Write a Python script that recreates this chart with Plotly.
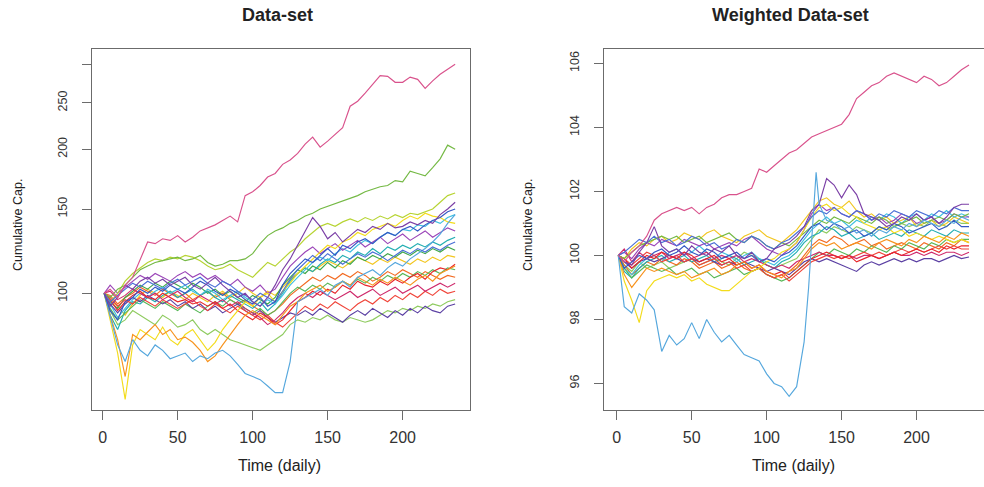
import math
import plotly.graph_objects as go

# ---------------- data ----------------
T = [1, 5, 10, 15, 20, 25, 30, 35, 40, 45, 50, 55, 60, 65, 70, 75, 80, 85, 90, 95,
     100, 105, 110, 115, 120, 125, 130, 135, 140, 145, 150, 155, 160, 165, 170, 175,
     180, 185, 190, 195, 200, 205, 210, 215, 220, 225, 230, 235]

T_R_SKY = [1, 5, 10, 15, 20, 25, 30, 35, 40, 45, 50, 55, 60, 65, 70, 75, 80, 85, 90, 95,
           100, 105, 110, 115, 120, 125, 128, 131, 133, 135, 140, 145, 150, 155, 160, 165,
           170, 175, 180, 185, 190, 195, 200, 205, 210, 215, 220, 225, 230, 235]

X_TICKS = [0, 50, 100, 150, 200]
L_TICKS = [100, 150, 200, 250, 300]
L_TICK_TEXT = ["100", "150", "200", "250", ""]
R_TICKS = [96, 98, 100, 102, 104, 106]

# Data-set (left panel)
L_PINK = [100,102,98,104,108,118,128,127,130,129,132,128,131,135,137,139,142,145,141,160,
          163,168,175,178,186,190,196,205,212,202,208,215,222,246,252,262,274,285,284,276,
          276,283,280,268,278,287,294,301]
L_SKY = [100,90,78,72,80,76,74,78,76,73,74,75,72,74,73,75,76,74,71,68,67,66,64,62,62,72,
         96,98,100,102,99,104,106,103,108,110,112,109,113,116,114,118,121,124,128,133,140,146]
L_YELLOW = [100,88,75,60,78,84,82,80,85,80,78,82,84,80,76,79,84,88,92,96,94,98,100,96,101,
            105,110,114,118,122,126,124,128,130,134,132,136,138,140,138,142,145,143,147,145,
            144,141,140]
L_ORANGE = [100,90,80,67,82,80,83,86,82,84,80,81,79,76,72,74,78,82,86,90,92,90,88,86,90,94,
            96,100,102,104,101,103,106,104,108,106,104,107,105,108,106,104,107,109,106,110,112,114]
L_LGREEN_LOW = [100,92,86,88,92,90,88,86,90,88,85,86,88,84,82,84,82,80,79,78,77,76,78,80,82,
                86,88,87,89,88,90,88,87,89,88,87,88,90,92,91,93,92,94,93,95,94,96,97]
L_GREEN_TOP = [100,98,102,104,108,112,114,116,117,118,119,117,118,120,116,114,115,117,117,118,
               121,127,132,135,137,140,142,145,147,150,152,154,156,158,160,163,165,167,168,172,
               171,180,178,176,183,191,204,200]
L_YGREEN = [100,96,100,106,110,113,116,118,117,119,118,120,119,117,114,112,113,115,112,110,108,
            112,116,114,118,122,125,130,134,138,140,138,141,143,141,144,142,145,143,146,144,147,
            146,148,150,155,160,162]
L_PURPLE = [100,94,98,104,102,106,108,105,107,104,106,108,104,102,105,108,104,101,98,100,96,94,
            98,104,112,118,126,134,144,138,130,134,128,132,136,134,138,136,140,137,138,141,139,
            142,140,146,150,155]
L_BLUE = [100,92,88,96,98,102,100,103,101,104,102,100,103,106,104,101,99,102,100,97,95,98,94,96,
          104,110,114,118,116,120,124,120,126,124,128,130,127,131,134,132,136,138,135,139,142,
          144,148,150]
L_RED = [100,97,92,96,99,101,98,97,100,98,96,97,95,96,94,96,93,95,92,90,88,91,89,86,88,92,96,98,
         101,99,102,100,104,102,106,104,103,106,104,107,105,108,110,107,111,113,112,115]
L_CRIMSON = [100,101,97,99,102,100,98,100,97,99,101,98,96,99,97,95,97,94,96,93,91,89,86,88,91,95,
             98,100,98,101,99,97,99,101,98,100,102,99,101,103,100,102,104,101,103,105,103,105]
L_DPURPLE = [100,95,91,95,98,96,99,97,95,97,94,96,93,95,92,94,91,93,95,92,90,92,89,87,89,91,90,
             92,90,93,91,89,87,90,92,90,93,91,89,92,90,93,91,94,92,91,94,95]
L_TEAL = [100,90,84,92,96,95,98,96,99,101,98,100,102,99,101,98,96,99,97,95,93,96,92,95,100,106,
          110,113,111,115,118,116,120,118,122,120,124,121,125,123,126,124,127,125,128,126,129,131]
L_GREEN_MID = [100,96,93,98,101,104,102,105,103,106,104,102,105,103,100,102,99,101,98,96,99,97,
               95,98,104,108,112,110,114,112,116,113,117,115,119,117,120,118,121,119,122,120,123,
               121,124,122,125,123]
L_ORANGE2 = [100,99,95,98,100,103,101,99,102,100,98,100,97,99,101,98,100,97,95,97,94,92,90,92,
             95,99,102,105,108,106,109,107,110,108,111,109,106,108,111,109,112,110,108,111,109,
             107,109,108]
L_VIOLET = [100,104,100,103,106,109,107,110,108,106,109,111,108,110,107,109,106,104,107,103,101,
            104,100,102,108,114,118,122,125,121,124,127,123,126,129,125,128,131,127,130,133,129,
            132,135,131,134,137,135]
L_YELLOW2 = [100,97,94,90,95,99,102,100,98,101,99,97,100,98,96,99,101,98,100,103,100,98,101,99,
             103,107,110,113,111,114,117,115,113,116,119,117,115,118,116,119,117,115,118,116,119,
             117,120,119]
L_CYAN = [100,95,89,93,97,100,98,101,103,100,102,104,101,99,102,100,97,99,101,98,96,94,97,95,99,
          104,108,112,116,119,117,121,124,122,126,129,127,131,134,132,136,135,139,138,142,140,
          144,146]
L_RED2 = [100,98,94,97,95,98,96,94,97,95,93,95,97,94,92,95,93,91,94,92,90,88,90,87,85,88,91,94,
          92,95,93,96,94,92,95,97,95,98,96,99,97,100,98,101,99,102,100,101]
L_GREEN2 = [100,93,88,91,94,97,95,93,96,94,92,95,93,91,94,96,94,97,95,93,91,93,90,92,96,100,103,
            101,104,102,105,103,106,104,107,105,108,106,109,107,110,108,111,109,112,110,113,112]
L_BLUE2 = [100,96,99,102,105,103,106,104,102,105,107,104,106,108,105,103,106,104,101,99,97,100,
           98,96,101,107,112,116,120,117,121,118,115,118,121,119,122,120,117,120,123,121,124,122,
           125,123,126,128]

# Weighted Data-set (right panel)
R_PINK = [100,99.8,100.1,100.3,100.6,101.1,101.3,101.4,101.5,101.4,101.5,101.3,101.5,101.6,101.8,
          101.9,101.9,102.0,102.1,102.7,102.6,102.8,103.0,103.2,103.3,103.5,103.7,103.8,103.9,
          104.0,104.1,104.4,104.9,105.1,105.3,105.4,105.6,105.7,105.6,105.5,105.4,105.6,105.5,
          105.3,105.4,105.6,105.8,105.95]
R_SKY = [100,98.4,98.2,98.8,98.6,98.3,97.0,97.5,97.2,97.4,97.9,97.4,98.0,97.6,97.3,97.5,97.2,
         96.9,96.8,96.7,96.3,96.0,95.9,95.6,95.9,97.3,99.0,101.2,102.6,101.6,101.1,101.0,100.8,
         100.9,100.7,100.8,100.6,100.8,100.7,100.9,100.8,101.0,100.9,101.1,101.0,100.9,101.1,
         101.0,101.2,101.1]
R_PURPLE = [100,99.8,99.7,100.1,100.4,100.9,100.3,100.1,100.2,100.0,100.3,100.1,100.0,100.2,100.1,
            100.3,100.0,99.9,100.1,99.8,99.9,100.2,100.3,100.4,100.6,100.9,101.4,101.6,102.4,
            102.2,101.8,102.2,101.9,101.3,101.2,101.1,100.9,101.0,101.2,101.1,101.3,101.1,101.2,
            101.0,101.2,101.5,101.6,101.6]
R_YELLOW = [100,99.2,98.6,97.9,98.9,99.2,99.3,99.4,99.3,99.4,99.2,99.3,99.1,99.0,98.9,98.9,99.1,
            99.3,99.5,99.6,99.8,99.9,100.1,100.2,100.4,100.8,101.2,101.5,101.6,101.4,101.5,101.3,
            101.2,101.0,100.9,100.8,100.9,100.7,100.8,100.6,100.7,100.6,100.5,100.6,100.5,100.4,
            100.5,100.4]
R_ORANGE = [100,99.4,99.0,99.3,99.6,99.5,99.6,99.5,99.4,99.5,99.3,99.4,99.5,99.6,99.4,99.5,99.7,
            99.8,99.6,99.7,99.5,99.4,99.3,99.5,99.6,99.9,100.2,100.4,100.3,100.4,100.2,100.3,
            100.4,100.3,100.2,100.4,100.5,100.4,100.3,100.5,100.4,100.6,100.5,100.4,100.6,100.5,
            100.7,100.6]
R_RED = [100,99.9,99.6,99.8,100.0,99.9,100.1,100.0,99.9,100.1,100.0,99.8,99.9,100.0,99.8,99.9,
         99.7,99.8,99.6,99.7,99.5,99.4,99.5,99.3,99.5,99.7,99.9,100.0,100.1,100.0,99.9,100.0,
         99.8,99.9,100.0,99.9,100.0,100.1,100.0,100.1,100.2,100.1,100.2,100.1,100.3,100.2,
         100.3,100.3]
R_CRIMSON = [100,100.2,99.8,100.1,99.9,100.0,100.1,99.9,100.0,100.1,99.9,100.0,100.1,99.9,100.0,
             99.9,100.0,99.8,99.9,99.8,99.7,99.6,99.7,99.6,99.8,99.9,100.0,100.1,100.0,100.0,
             99.9,100.0,99.9,100.0,100.0,99.9,100.0,100.1,100.0,100.0,100.1,100.0,100.1,100.0,
             100.1,100.1,100.0,100.1]
R_GREEN_TOP = [100,99.9,100.1,100.3,100.4,100.5,100.6,100.5,100.6,100.4,100.5,100.6,100.4,100.5,
               100.6,100.7,100.5,100.4,100.6,100.5,100.3,100.2,100.4,100.3,100.5,100.7,100.9,
               101.1,101.0,101.2,101.1,101.0,101.2,101.1,101.0,101.2,101.1,100.9,101.0,101.1,
               101.2,101.0,101.1,101.2,101.1,101.3,101.2,101.3]
R_LGREEN = [100,99.7,99.5,99.8,99.6,99.7,99.8,99.6,99.7,99.8,99.9,99.7,99.8,99.9,99.8,99.7,99.9,
            100.1,100.0,99.9,99.7,99.6,99.7,99.8,99.9,100.2,100.5,100.8,100.7,100.9,100.8,100.7,
            100.9,100.8,100.7,100.9,100.8,100.9,101.0,100.9,101.0,100.9,101.1,101.0,100.9,101.1,
            101.0,101.0]
R_BLUE = [100,99.6,99.8,100.0,99.9,100.1,100.2,100.0,100.1,100.3,100.1,100.0,100.2,100.1,99.9,
          100.0,100.1,99.9,100.0,99.8,99.9,99.8,100.0,100.1,100.3,100.6,100.9,101.0,100.8,101.0,
          100.9,100.7,100.8,100.6,100.7,100.9,100.8,101.0,100.9,100.7,100.8,100.9,101.0,100.8,
          100.9,101.1,100.9,100.9]
R_TEAL = [100,99.5,99.3,99.6,99.8,99.9,100.0,99.8,99.9,100.0,99.8,99.9,100.0,99.8,99.9,100.0,
          99.9,99.7,99.8,99.9,99.7,99.6,99.8,99.9,100.1,100.4,100.6,100.7,100.9,100.8,100.6,
          100.7,100.5,100.6,100.7,100.5,100.6,100.7,100.6,100.8,100.7,100.6,100.8,100.7,100.6,
          100.8,100.7,100.7]
R_VIOLET = [100,100.1,99.9,100.2,100.4,100.3,100.5,100.4,100.3,100.5,100.4,100.3,100.4,100.2,
            100.3,100.4,100.3,100.5,100.6,100.4,100.2,100.1,100.0,100.2,100.4,100.8,101.3,101.6,
            101.4,101.5,101.3,101.2,101.4,101.3,101.1,101.2,101.0,101.1,101.3,101.2,101.0,101.1,
            101.2,101.0,101.1,101.3,101.2,101.2]
R_DPURPLE = [100,99.8,99.6,99.8,99.9,99.8,99.9,100.0,99.9,99.8,99.9,99.8,99.9,99.8,99.7,99.8,
             99.7,99.8,99.7,99.6,99.5,99.6,99.5,99.4,99.6,99.8,99.9,99.8,99.9,99.8,99.7,99.6,
             99.5,99.7,99.8,99.7,99.8,99.9,99.8,99.9,99.8,99.9,99.9,99.8,99.9,100.0,99.9,99.95]
R_ORANGE2 = [100,99.7,99.4,99.6,99.8,99.7,99.9,99.8,99.7,99.9,99.8,99.6,99.7,99.8,99.6,99.7,
             99.8,99.6,99.5,99.6,99.4,99.3,99.4,99.5,99.7,100.0,100.3,100.5,100.4,100.6,100.5,
             100.3,100.4,100.5,100.3,100.4,100.2,100.3,100.4,100.3,100.2,100.4,100.3,100.2,100.4,
             100.3,100.5,100.4]
R_YELLOW2 = [100,99.9,100.2,100.4,100.3,100.5,100.6,100.4,100.5,100.7,100.6,100.5,100.7,100.8,
             100.6,100.5,100.4,100.6,100.7,100.8,100.6,100.5,100.4,100.6,100.8,101.1,101.4,101.7,
             101.8,101.6,101.5,101.7,101.4,101.2,101.3,101.1,101.2,101.0,101.1,101.2,100.9,101.0,
             101.1,100.9,101.0,101.2,101.1,101.0]
R_CYAN = [100,99.6,99.4,99.7,99.9,100.0,99.8,100.1,100.2,100.0,100.1,100.3,100.1,99.9,100.1,
          100.0,99.8,100.0,100.1,99.9,99.8,99.7,99.9,100.0,100.2,100.5,100.8,101.0,101.2,101.0,
          101.1,100.9,101.1,101.0,101.2,101.1,101.3,101.2,101.0,101.2,101.3,101.1,101.3,101.2,
          101.4,101.2,101.3,101.2]
R_RED2 = [100,99.9,99.7,99.9,100.1,100.0,99.8,99.9,100.0,99.8,99.9,99.7,99.8,99.9,99.7,99.8,
          99.6,99.7,99.5,99.6,99.4,99.3,99.4,99.2,99.4,99.6,99.8,99.9,100.0,99.9,100.0,99.9,
          100.0,100.1,100.0,100.1,100.0,100.1,100.2,100.1,100.2,100.1,100.2,100.3,100.2,100.3,
          100.2,100.2]
R_GREEN2 = [100,99.6,99.3,99.5,99.7,99.6,99.5,99.6,99.4,99.5,99.6,99.4,99.5,99.3,99.4,99.5,99.6,
            99.4,99.5,99.6,99.4,99.3,99.2,99.3,99.5,99.7,99.9,100.1,100.0,100.2,100.1,100.0,
            100.2,100.1,100.3,100.2,100.1,100.3,100.2,100.4,100.3,100.2,100.4,100.3,100.5,100.4,
            100.5,100.5]
R_BLUE2 = [100,100.1,100.3,100.5,100.4,100.6,100.4,100.5,100.3,100.4,100.6,100.5,100.3,100.4,
           100.2,100.3,100.5,100.4,100.6,100.5,100.3,100.2,100.4,100.5,100.7,100.9,101.2,101.4,
           101.3,101.5,101.3,101.2,101.4,101.3,101.1,101.3,101.2,101.4,101.3,101.2,101.4,101.3,
           101.2,101.4,101.3,101.5,101.4,101.4]

# ---------------- styling ----------------
C = {
    "pink": "#D9528C", "sky": "#55A7DD", "yellow": "#F3DC1C", "orange": "#F7931E",
    "lgreen": "#8FCB60", "greentop": "#74B944", "ygreen": "#B7D433", "purple": "#7B3FA6",
    "blue": "#3458C4", "red": "#E8262A", "crimson": "#CF2B6C", "dpurple": "#5B40A3",
    "teal": "#22AEB2", "greenmid": "#3FA84B", "orange2": "#F26A21", "violet": "#9B45B8",
    "yellow2": "#F2C620", "cyan": "#3FBFE0", "red2": "#F0453A", "green2": "#58B858",
    "blue2": "#4A6FD6",
}

left = [
    (T, L_LGREEN_LOW, C["lgreen"]), (T, L_YELLOW2, C["yellow2"]), (T, L_ORANGE2, C["orange2"]),
    (T, L_GREEN_MID, C["greenmid"]), (T, L_TEAL, C["teal"]), (T, L_CYAN, C["cyan"]),
    (T, L_GREEN2, C["green2"]), (T, L_VIOLET, C["violet"]), (T, L_DPURPLE, C["dpurple"]),
    (T, L_RED2, C["red2"]), (T, L_CRIMSON, C["crimson"]), (T, L_RED, C["red"]),
    (T, L_YGREEN, C["ygreen"]), (T, L_GREEN_TOP, C["greentop"]), (T, L_YELLOW, C["yellow"]),
    (T, L_ORANGE, C["orange"]), (T, L_SKY, C["sky"]), (T, L_BLUE2, C["blue2"]),
    (T, L_BLUE, C["blue"]), (T, L_PURPLE, C["purple"]), (T, L_PINK, C["pink"]),
]
right = [
    (T, R_LGREEN, C["lgreen"]), (T, R_YELLOW2, C["yellow2"]), (T, R_ORANGE2, C["orange2"]),
    (T, R_TEAL, C["teal"]), (T, R_CYAN, C["cyan"]), (T, R_GREEN2, C["green2"]),
    (T, R_VIOLET, C["violet"]), (T, R_DPURPLE, C["dpurple"]), (T, R_RED2, C["red2"]),
    (T, R_CRIMSON, C["crimson"]), (T, R_RED, C["red"]), (T, R_GREEN_TOP, C["greentop"]),
    (T, R_YELLOW, C["yellow"]), (T, R_ORANGE, C["orange"]), (T, R_BLUE2, C["blue2"]),
    (T, R_BLUE, C["blue"]), (T, R_PURPLE, C["purple"]), (T_R_SKY, R_SKY, C["sky"]),
    (T, R_PINK, C["pink"]),
]

fig = go.Figure()
for xs, ys, col in left:
    fig.add_trace(go.Scatter(x=xs, y=ys, mode="lines", line=dict(color=col, width=1.15),
                             xaxis="x", yaxis="y", hoverinfo="skip", showlegend=False))
for xs, ys, col in right:
    fig.add_trace(go.Scatter(x=xs, y=ys, mode="lines", line=dict(color=col, width=1.15),
                             xaxis="x2", yaxis="y2", hoverinfo="skip", showlegend=False))

W, H = 984, 487
FONT = "Liberation Sans, Arial, sans-serif"
AX = "#6b6b6b"
TXT = "#333333"


def px_x(sx):
    return sx / W


def px_y(sy):
    return 1 - sy / H


ydom = [px_y(410), px_y(49)]

common_x = dict(tickvals=X_TICKS, ticks="outside", ticklen=9, tickcolor=AX, tickwidth=1,
                showline=True, linecolor=AX, linewidth=1, mirror=True, showgrid=False,
                zeroline=False, automargin=False, ticklabelstandoff=4,
                tickfont=dict(family=FONT, size=16, color=TXT))
common_y = dict(ticks="outside", ticklen=9, tickcolor=AX, tickwidth=1, tickangle=-90,
                showline=True, linecolor=AX, linewidth=1, mirror=True, showgrid=False,
                zeroline=False, automargin=False, ticklabelstandoff=10,
                tickfont=dict(family=FONT, size=12.5, color=TXT))

fig.update_layout(
    width=W, height=H, margin=dict(l=0, r=0, t=0, b=0, autoexpand=False),
    paper_bgcolor="white", plot_bgcolor="white", showlegend=False, hovermode=False,
    xaxis=dict(domain=[px_x(92), px_x(470)], range=[-7.1, 244.9], anchor="y", **common_x),
    yaxis=dict(domain=ydom, type="log", range=[math.log10(57.03), math.log10(324.0)],
               tickvals=L_TICKS, ticktext=L_TICK_TEXT, anchor="x", **common_y),
    xaxis2=dict(domain=[px_x(604), min(1.0, px_x(985))], range=[-8.5, 245.0], anchor="y2",
                **common_x),
    yaxis2=dict(domain=ydom, range=[95.17, 106.45], tickvals=R_TICKS, anchor="x2", **common_y),
)


def ann(text, sx, sy, size, angle=0):
    fig.add_annotation(text=text, x=px_x(sx), y=px_y(sy), xref="paper", yref="paper",
                       showarrow=False, textangle=angle, xanchor="center", yanchor="middle",
                       font=dict(family=FONT, size=size, color="#222222"))


ann("<b>Data-set</b>", 277, 15, 18)
ann("<b>Weighted Data-set</b>", 790, 15, 18)
ann("Time (daily)", 279, 465, 16)
ann("Time (daily)", 793, 465, 16)
ann("Cumulative Cap.", 18, 225, 12.5, -90)
ann("Cumulative Cap.", 528, 225, 12.5, -90)

fig.write_html("out.html", config={"displayModeBar": False, "staticPlot": True},
               post_script="document.body.style.margin='0';document.body.style.overflow='hidden';")
